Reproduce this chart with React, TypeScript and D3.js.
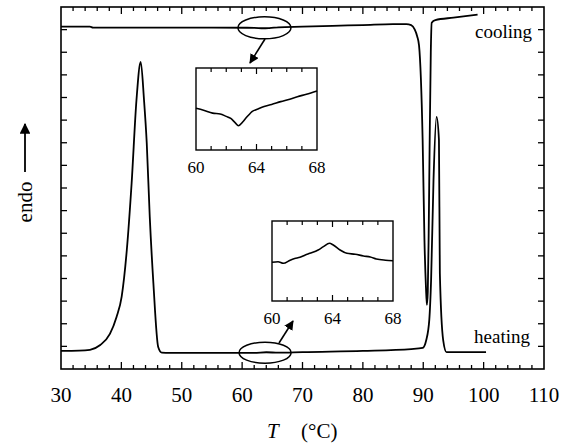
import React from "react";
import * as d3 from "d3";

// Main chart data (T in °C, signal in arbitrary units)
const coolingT = [30, 34.8, 35.3, 45, 55, 62, 63.5, 64.5, 66, 70, 75, 80, 85, 87.2, 88.0, 88.6, 89.0, 89.3, 89.9, 90.2, 90.45, 90.6, 90.75, 90.9, 91.05, 91.25, 91.4, 92, 95, 99];
const coolingY = [15.13, 15.13, 15.09, 15.09, 15.09, 15.08, 15.06, 15.07, 15.1, 15.13, 15.17, 15.2, 15.24, 15.24, 15.2, 15.0, 14.7, 14.3, 10.1, 5.7, 3.6, 2.83, 3.4, 6.0, 9.7, 14.0, 15.3, 15.42, 15.53, 15.66];

const heatingT = [30, 33, 34.8, 36.5, 38.1, 39.2, 40.05, 40.9, 41.7, 42.5, 43.2, 43.75, 44.2, 44.7, 45.3, 46.1, 46.7, 48, 55, 62, 64, 66, 70, 80, 88, 89.9, 90.5, 91.0, 91.3, 91.7, 92.2, 92.6, 92.75, 93.3, 93.85, 96, 100.4];
const heatingY = [0.8, 0.81, 0.85, 1.06, 1.55, 2.3, 3.2, 5.26, 8.22, 11.89, 13.57, 11.89, 10.0, 6.73, 3.8, 0.97, 0.72, 0.71, 0.71, 0.71, 0.74, 0.72, 0.75, 0.8, 0.88, 0.93, 1.28, 2.17, 3.93, 8.35, 11.14, 10.12, 4.24, 1.28, 0.75, 0.75, 0.75];

// Inset data (normalized signal 0..1)
const insetCoolT = [60, 60.5, 61.1, 61.6, 62.0, 62.3, 62.6, 62.8, 63.1, 63.3, 63.5, 63.7, 64.1, 64.5, 65.0, 65.6, 66.2, 66.7, 67.3, 68];
const insetCoolY = [0.509, 0.485, 0.45, 0.44, 0.41, 0.385, 0.33, 0.296, 0.345, 0.39, 0.43, 0.467, 0.5, 0.53, 0.555, 0.59, 0.62, 0.65, 0.68, 0.72];

const insetHeatT = [60, 60.4, 60.75, 61.2, 61.5, 61.85, 62.2, 62.5, 63.05, 63.4, 63.8, 64.05, 64.5, 64.95, 65.5, 66.05, 66.5, 66.9, 67.5, 68];
const insetHeatY = [0.484, 0.491, 0.471, 0.51, 0.53, 0.546, 0.575, 0.596, 0.6375, 0.679, 0.721, 0.7, 0.6375, 0.596, 0.585, 0.5625, 0.55, 0.525, 0.51, 0.504];

const xTicks = [30, 40, 50, 60, 70, 80, 90, 100, 110];
const insetTicks = [60, 64, 68];

const FONT = "'Liberation Serif', 'Times New Roman', serif";

function Inset({ x0, y0, w, h, T, Y }: { x0: number; y0: number; w: number; h: number; T: number[]; Y: number[] }) {
  const xs = d3.scaleLinear().domain([60, 68]).range([x0, x0 + w]);
  const ys = d3.scaleLinear().domain([0, 1]).range([y0 + h, y0]);
  const line = d3
    .line<number>()
    .x((_, i) => xs(T[i]))
    .y((_, i) => ys(Y[i]))
    .curve(d3.curveMonotoneX);
  const minor = d3.range(61, 68, 1);
  return (
    <g>
      <rect x={x0} y={y0} width={w} height={h} fill="white" stroke="black" strokeWidth={1.4} />
      {minor.map((t) => {
        const len = t === 64 ? 6 : 4;
        return (
          <g key={t}>
            <line x1={xs(t)} x2={xs(t)} y1={y0} y2={y0 + len} stroke="black" strokeWidth={1.2} />
            <line x1={xs(t)} x2={xs(t)} y1={y0 + h} y2={y0 + h - len} stroke="black" strokeWidth={1.2} />
          </g>
        );
      })}
      <path d={line(T) || ""} fill="none" stroke="black" strokeWidth={1.6} />
      {insetTicks.map((t) => (
        <text key={t} x={xs(t)} y={y0 + h + 23} textAnchor="middle" fontFamily={FONT} fontSize={17}>
          {t}
        </text>
      ))}
    </g>
  );
}

export default function App() {
  const left = 61, right = 544, top = 7, bottom = 369;
  const x = d3.scaleLinear().domain([30, 110]).range([left, right]);
  const y = d3.scaleLinear().domain([0, 16]).range([bottom, top]);

  const mkLine = (T: number[], Y: number[]) =>
    d3
      .line<number>()
      .x((_, i) => x(T[i]))
      .y((_, i) => y(Y[i]))
      .curve(d3.curveMonotoneX)(T) || "";

  const minorX = d3.range(32, 110, 2);
  const yTicks = d3.range(1, 16, 1);

  return (
    <svg width={567} height={447} style={{ position: "absolute", left: 0, top: 0, background: "white" }}>
      <defs>
        <marker id="ah" viewBox="0 0 10 10" refX="9" refY="5" markerWidth="6" markerHeight="6" orient="auto" markerUnits="strokeWidth">
          <path d="M0,0 L10,5 L0,10 z" fill="black" />
        </marker>
      </defs>
      <rect x={0} y={0} width={567} height={447} fill="white" />
      {/* ticks */}
      {minorX.map((t) => {
        const major = t % 10 === 0;
        const len = major ? 7 : 4;
        return (
          <g key={t}>
            <line x1={x(t)} x2={x(t)} y1={bottom} y2={bottom - len} stroke="black" strokeWidth={1.3} />
            <line x1={x(t)} x2={x(t)} y1={top} y2={top + len} stroke="black" strokeWidth={1.3} />
          </g>
        );
      })}
      {yTicks.map((v) => (
        <g key={v}>
          <line x1={left} x2={left + 6} y1={y(v)} y2={y(v)} stroke="black" strokeWidth={1.3} />
          <line x1={right} x2={right - 6} y1={y(v)} y2={y(v)} stroke="black" strokeWidth={1.3} />
        </g>
      ))}
      <rect x={left} y={top} width={right - left} height={bottom - top} fill="none" stroke="black" strokeWidth={1.6} />
      {xTicks.map((t) => (
        <text key={t} x={x(t)} y={402} textAnchor="middle" fontFamily={FONT} fontSize={21}>
          {t}
        </text>
      ))}
      {/* curves */}
      <path d={mkLine(coolingT, coolingY)} fill="none" stroke="black" strokeWidth={1.8} />
      <path d={mkLine(heatingT, heatingY)} fill="none" stroke="black" strokeWidth={1.8} />

      {/* ellipses and arrows */}
      <ellipse cx={x(63.7)} cy={y(15.08)} rx={26.5} ry={11} fill="none" stroke="black" strokeWidth={1.5} />
      <line x1={265} y1={39} x2={250} y2={63} stroke="black" strokeWidth={1.6} markerEnd="url(#ah)" />
      <ellipse cx={x(63.8)} cy={y(0.72)} rx={26} ry={10.5} fill="none" stroke="black" strokeWidth={1.5} />
      <line x1={279} y1={343} x2={293} y2={321} stroke="black" strokeWidth={1.6} markerEnd="url(#ah)" />

      <Inset x0={196} y0={68} w={121} h={82} T={insetCoolT} Y={insetCoolY} />
      <Inset x0={272} y0={221} w={121} h={80} T={insetHeatT} Y={insetHeatY} />

      <text x={532} y={38} textAnchor="end" fontFamily={FONT} fontSize={19}>cooling</text>
      <text x={530} y={343} textAnchor="end" fontFamily={FONT} fontSize={19}>heating</text>

      {/* y label */}
      <text transform="translate(32,202) rotate(-90)" textAnchor="middle" fontFamily={FONT} fontSize={21}>endo</text>
      <line x1={25} y1={172} x2={25} y2={124} stroke="black" strokeWidth={1.8} markerEnd="url(#ah)" />

      {/* x label */}
      <text x={267} y={438} fontFamily={FONT} fontSize={21} fontStyle="italic">T</text>
      <text x={301} y={438} fontFamily={FONT} fontSize={21}>(°C)</text>
    </svg>
  );
}
